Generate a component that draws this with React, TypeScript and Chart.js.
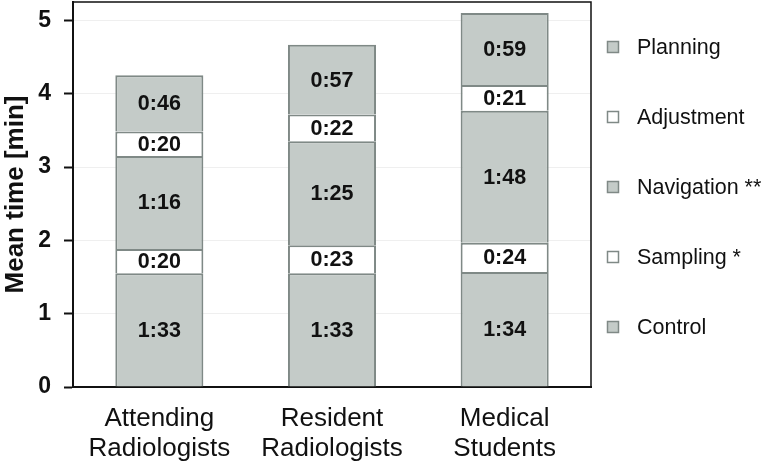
import React, { useEffect, useRef } from "react";
import { Chart, registerables } from "chart.js";

Chart.register(...registerables);

const categories = [
  ["Attending", "Radiologists"],
  ["Resident", "Radiologists"],
  ["Medical", "Students"],
];
const seriesNames = ["Control", "Sampling *", "Navigation **", "Adjustment", "Planning"];
// segment durations in seconds
const controlSec = [93, 93, 94];
const samplingSec = [20, 23, 24];
const navigationSec = [76, 85, 108];
const adjustmentSec = [20, 22, 21];
const planningSec = [46, 57, 59];
const yTicks = [0, 1, 2, 3, 4, 5];

const FONT = "'Liberation Sans', Arial, Helvetica, sans-serif";
const GREY = "#c4cbc8";
const EDGE = "#7f8986";

const fmt = (s: number) => `${Math.floor(s / 60)}:${String(s % 60).padStart(2, "0")}`;

const frameAndLabels = {
  id: "frameAndLabels",
  afterDatasetsDraw(chart: any) {
    const ctx = chart.ctx;
    ctx.save();
    ctx.font = `bold 21.5px ${FONT}`;
    ctx.fillStyle = "#111";
    ctx.textAlign = "center";
    ctx.textBaseline = "middle";
    chart.data.datasets.forEach((ds: any, di: number) => {
      const meta = chart.getDatasetMeta(di);
      meta.data.forEach((bar: any, i: number) => {
        const { x, y, base } = bar.getProps(["x", "y", "base"], true);
        ctx.fillText(fmt(ds.secs[i]), x, (y + base) / 2 + 1);
      });
    });
    ctx.restore();
  },
  afterDraw(chart: any) {
    const ctx = chart.ctx;
    const a = chart.chartArea;
    ctx.save();
    ctx.strokeStyle = "#111";
    ctx.lineWidth = 1.5;
    ctx.beginPath();
    ctx.moveTo(a.left, a.top);
    ctx.lineTo(a.right, a.top);
    ctx.lineTo(a.right, a.bottom);
    ctx.stroke();
    // legend
    const n = chart.data.datasets.length;
    ctx.font = `21.5px ${FONT}`;
    ctx.textAlign = "left";
    ctx.textBaseline = "middle";
    for (let k = 0; k < n; k++) {
      const ds = chart.data.datasets[n - 1 - k];
      const cy = 47 + k * 70;
      ctx.fillStyle = ds.backgroundColor;
      ctx.fillRect(607, cy - 6, 12, 12);
      ctx.strokeStyle = EDGE;
      ctx.lineWidth = 1.5;
      ctx.strokeRect(607.5, cy - 5.5, 11, 11);
      ctx.fillStyle = "#111";
      ctx.fillText(ds.label, 637, cy + 1);
    }
    ctx.restore();
  },
};

export default function App() {
  const ref = useRef<HTMLCanvasElement>(null);
  useEffect(() => {
    const secs = [controlSec, samplingSec, navigationSec, adjustmentSec, planningSec];
    const fills = [GREY, "#ffffff", GREY, "#ffffff", GREY];
    const chart = new Chart(ref.current!, {
      type: "bar",
      data: {
        labels: categories,
        datasets: seriesNames.map((name, i) => ({
          label: name,
          data: secs[i].map((s) => s / 60),
          secs: secs[i],
          backgroundColor: fills[i],
          borderColor: EDGE,
          borderWidth: 2,
          barPercentage: 0.51,
          categoryPercentage: 1,
        })) as any,
      },
      options: {
        animation: false,
        responsive: true,
        maintainAspectRatio: false,
        layout: { padding: { top: 2, right: 173, left: 0, bottom: 0 } },
        plugins: { legend: { display: false }, tooltip: { enabled: false } },
        scales: {
          x: {
            stacked: true,
            grid: { display: false, drawTicks: false },
            border: { display: true, color: "#111", width: 2 },
            ticks: {
              color: "#111",
              padding: 17,
              font: { family: FONT, size: 26, lineHeight: 1.15 },
              maxRotation: 0,
            },
            afterFit(scale: any) {
              scale.height = 77;
              scale.paddingLeft = 0;
              scale.paddingRight = 0;
            },
          },
          y: {
            stacked: true,
            min: 0,
            max: 5.25,
            afterBuildTicks(scale: any) {
              scale.ticks = yTicks.map((v) => ({ value: v }));
            },
            grid: { color: "#efefef", lineWidth: 1, tickColor: "#111", tickLength: 9, tickWidth: 2 },
            border: { display: true, color: "#111", width: 2 },
            ticks: {
              color: "#111",
              padding: 13,
              font: { family: FONT, size: 23, weight: "bold" },
            },
            title: {
              display: true,
              text: "Mean time [min]",
              color: "#111",
              padding: 0,
              font: { family: FONT, size: 26, weight: "bold" },
            },
            afterFit(scale: any) {
              scale.width = 73;
              scale.paddingTop = 0;
              scale.paddingBottom = 0;
            },
          },
        },
      },
      plugins: [frameAndLabels],
    });
    return () => chart.destroy();
  }, []);
  return (
    <div style={{ position: "fixed", left: 0, top: 0, width: 764, height: 464, background: "#fff" }}>
      <canvas ref={ref} />
    </div>
  );
}
